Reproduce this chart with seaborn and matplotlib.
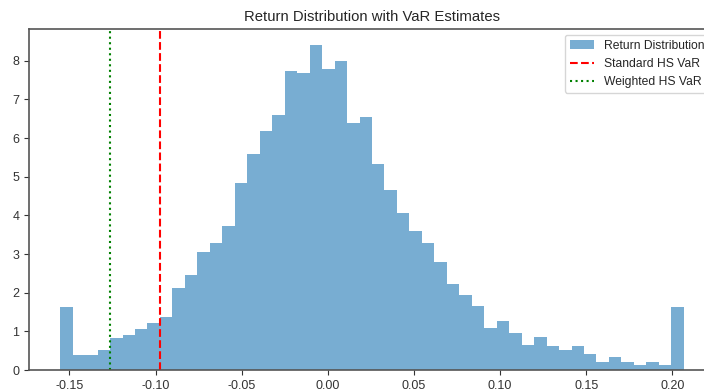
import numpy as np
import pandas as pd
import matplotlib
matplotlib.use("Agg")
import matplotlib.pyplot as plt
import seaborn as sns

# histogram: 50 bins of density
bin_lo = -0.1554
bin_hi = 0.2066
density = [1.62, 0.40, 0.40, 0.52, 0.82, 0.91, 1.06, 1.22, 1.36, 2.13,
           2.46, 3.06, 3.29, 3.72, 4.84, 5.58, 6.17, 6.59, 7.73, 7.69,
           8.40, 7.78, 7.98, 6.38, 6.54, 5.33, 4.66, 4.05, 3.59, 3.28,
           2.80, 2.23, 1.93, 1.66, 1.09, 1.27, 0.97, 0.64, 0.85, 0.63,
           0.53, 0.63, 0.41, 0.22, 0.34, 0.20, 0.13, 0.20, 0.12, 1.62]
var_standard = -0.0977
var_weighted = -0.1262

edges = np.linspace(bin_lo, bin_hi, len(density) + 1)
df = pd.DataFrame({"ret": (edges[:-1] + edges[1:]) / 2, "dens": density})

sns.set_style("white")
plt.rcParams["font.family"] = ["Liberation Sans", "DejaVu Sans"]

fig = plt.figure(figsize=(7.04, 3.92), dpi=100)
ax = fig.add_axes([0.0412, 0.0561, 0.9744, 0.8699])

sns.histplot(data=df, x="ret", weights="dens", bins=len(density),
             binrange=(bin_lo, bin_hi), stat="count",
             color="#1f77b4", alpha=0.6, linewidth=0,
             label="Return Distribution", ax=ax)
ax.axvline(var_standard, color="red", linestyle="--", linewidth=1.5, label="Standard HS VaR")
ax.axvline(var_weighted, color="green", linestyle=":", linewidth=1.5, label="Weighted HS VaR")

ax.set_title("Return Distribution with VaR Estimates", fontsize=10.7)
ax.set_xlabel("")
ax.set_ylabel("")
ax.set_xticks([-0.15, -0.10, -0.05, 0.00, 0.05, 0.10, 0.15, 0.20])
ax.set_xticklabels(["-0.15", "-0.10", "-0.05", "0.00", "0.05", "0.10", "0.15", "0.20"])
ax.tick_params(labelsize=9, length=3.5, left=True, bottom=True, colors="#333333")
for s in ax.spines.values():
    s.set_color("#555555")
    s.set_linewidth(1.2)

handles, labels = ax.get_legend_handles_labels()
order = [labels.index(l) for l in ["Return Distribution", "Standard HS VaR", "Weighted HS VaR"]]
ax.legend([handles[i] for i in order], [labels[i] for i in order],
          loc="upper right", fontsize=8.7, frameon=True)

fig.savefig("out.png", dpi=100)
